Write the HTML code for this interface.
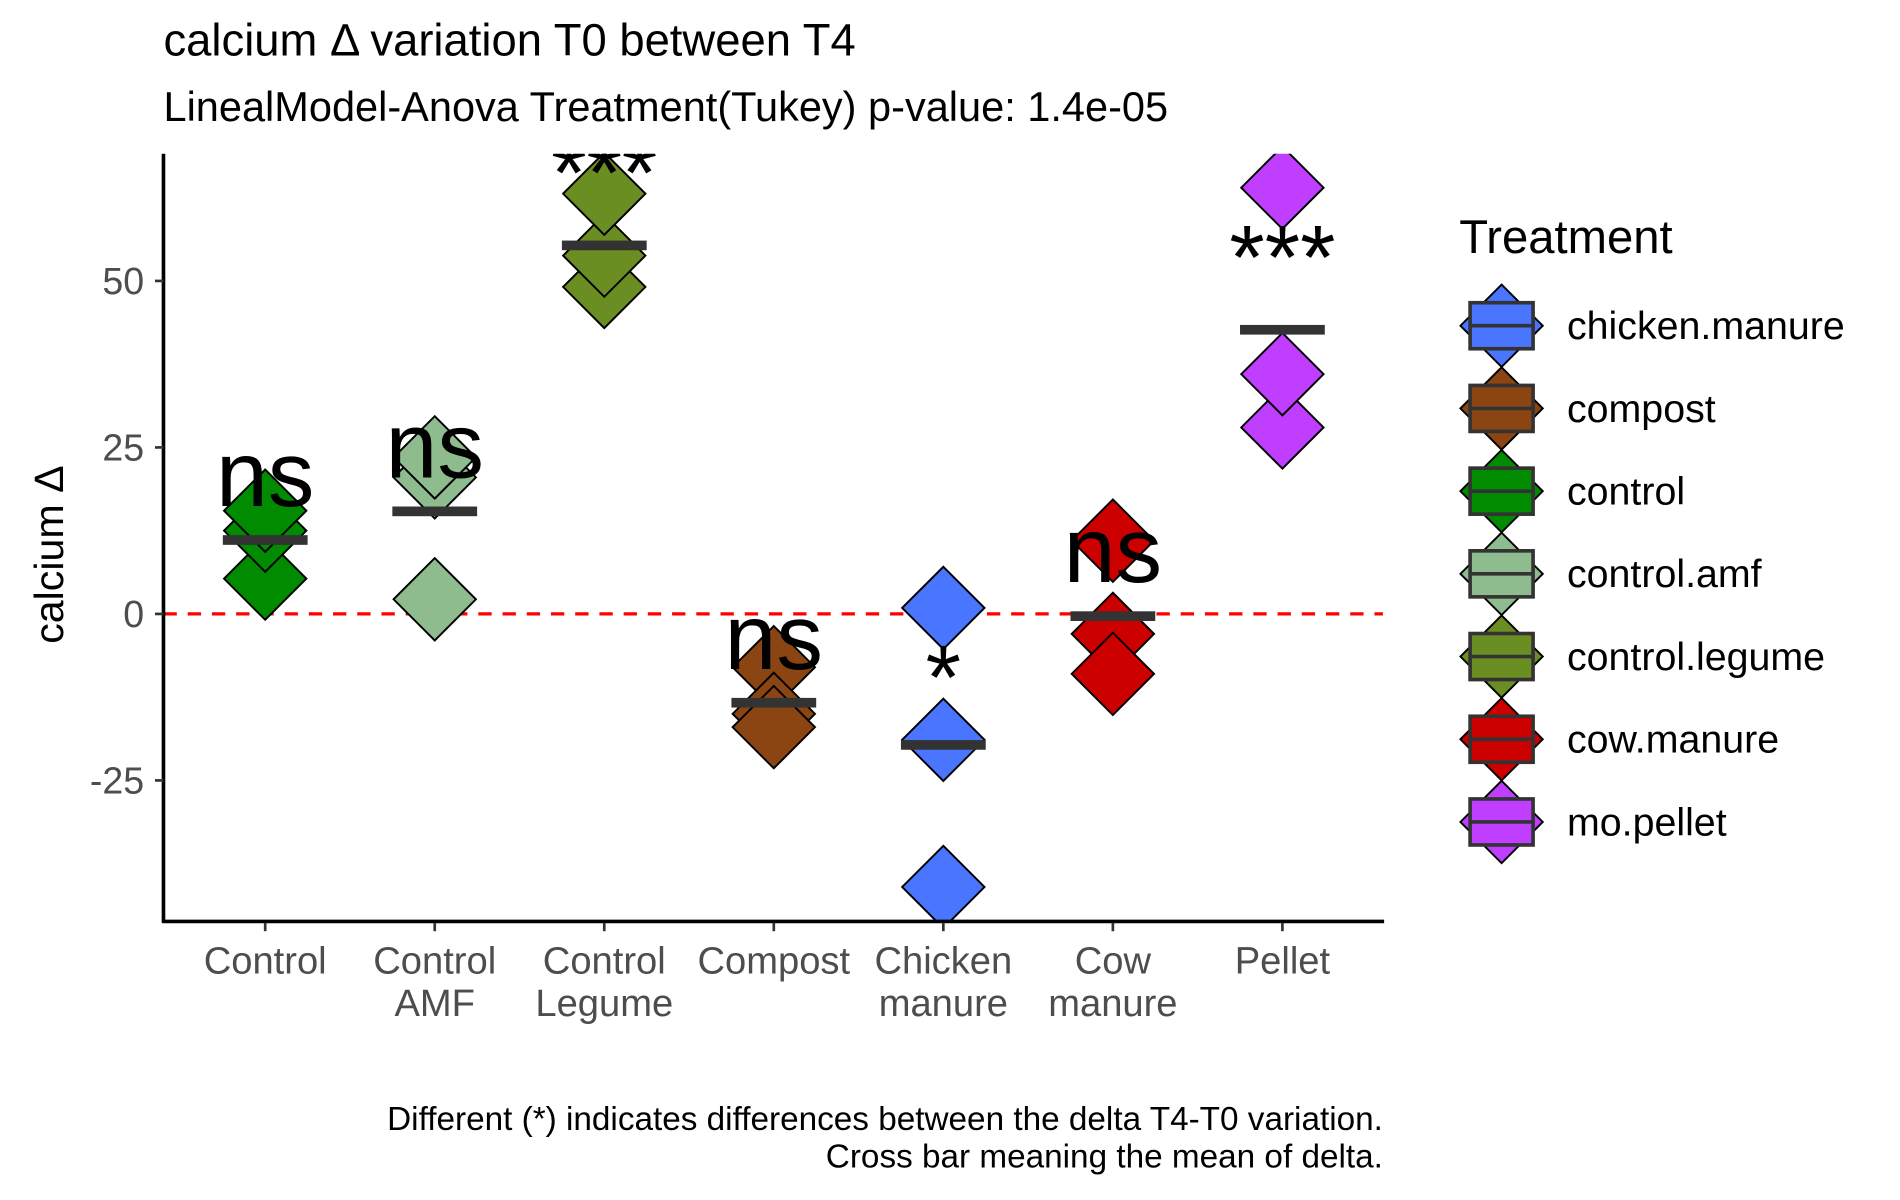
<!DOCTYPE html>
<html><head><meta charset="utf-8"><style>html,body{margin:0;padding:0;background:#fff}svg{display:block}</style></head>
<body>
<svg id="chart" width="1900" height="1200" viewBox="0 0 1569 991" preserveAspectRatio="none" xmlns="http://www.w3.org/2000/svg" font-family="Liberation Sans, Arial, sans-serif">
<rect width="1569" height="991" fill="#fff"/>
<text x="135" y="46" font-size="37.5">calcium Δ variation T0 between T4</text>
<text x="135" y="100" font-size="34.3">LinealModel-Anova Treatment(Tukey) p-value: 1.4e-05</text>
<text transform="translate(52,458) rotate(-90)" text-anchor="middle" font-size="34">calcium Δ</text>
<defs><clipPath id="pc"><rect x="135" y="127" width="1010" height="635"/></clipPath></defs>
<g id="plot" clip-path="url(#pc)"></g>
<g id="axes"></g>
<g id="legend"></g>
<text x="1142" y="933" text-anchor="end" font-size="27.5">Different (*) indicates differences between the delta T4-T0 variation.</text>
<text x="1142" y="964" text-anchor="end" font-size="27.5">Cross bar meaning the mean of delta.</text>
</svg>
<script>
const categories = [["Control"],["Control","AMF"],["Control","Legume"],["Compost"],["Chicken","manure"],["Cow","manure"],["Pellet"]];
const treatments = ["control","control.amf","control.legume","compost","chicken.manure","cow.manure","mo.pellet"];
const colors = ["#008B00","#8FBC8F","#6B8E23","#8B4513","#4A76FF","#CD0000","#BF3EFF"];
const valuesControl = [5.3, 12.5, 15.5];
const valuesAMF = [2.2, 20.5, 23.5];
const valuesLegume = [49.1, 53.8, 63.1];
const valuesCompost = [-8, -15, -17];
const valuesChicken = [0.9, -18.9, -41];
const valuesCow = [11, -3, -9];
const valuesPellet = [28, 36, 64];
const signif = ["ns","ns","***","ns","*","ns","***"];
const yTicks = [-25, 0, 25, 50];
const legendNames = ["chicken.manure","compost","control","control.amf","control.legume","cow.manure","mo.pellet"];
const legendColors = ["#4A76FF","#8B4513","#008B00","#8FBC8F","#6B8E23","#CD0000","#BF3EFF"];

const series = [valuesControl, valuesAMF, valuesLegume, valuesCompost, valuesChicken, valuesCow, valuesPellet];
const NS = "http://www.w3.org/2000/svg";
const yS = v => 507 - v * 5.5;
const xS = i => 219 + i * 140;
function mk(tag, attrs, parent){const e=document.createElementNS(NS,tag);for(const k in attrs)e.setAttribute(k,attrs[k]);parent.appendChild(e);return e;}
const plot=document.getElementById('plot'), axes=document.getElementById('axes'), legend=document.getElementById('legend');

const zl=mk('line',{x1:135,x2:1142,y1:yS(0),y2:yS(0),stroke:'#ff0000','stroke-width':2.7,'stroke-dasharray':'11 9'},plot);



series.forEach((vals,i)=>{
  const cx=xS(i); const h=34;
  vals.forEach((v,j)=>{
    const cy=yS(v);
    const d=mk('polygon',{points:`${cx},${cy-h} ${cx+h},${cy} ${cx},${cy+h} ${cx-h},${cy}`,fill:colors[i],stroke:'#000','stroke-width':1.6},plot);
    
    
  });
  const mean=vals.reduce((a,b)=>a+b,0)/vals.length;
  const b=mk('rect',{x:cx-35,y:yS(mean)-4,width:70,height:8,fill:'#333'},plot);
  
  
  let ly;
  if(signif[i]==='ns') ly=yS(mean)-28; else if(signif[i]==='*') ly=yS(mean)-30; else ly=yS(mean)-34;
  const t=mk('text',{x:cx,y:ly,'text-anchor':'middle','font-size':signif[i]==='ns'?77:75},plot);
  t.textContent=signif[i];
  
  
});

mk('line',{x1:135,x2:135,y1:127,y2:762,stroke:'#000','stroke-width':3},axes);
mk('line',{x1:134,x2:1143,y1:761,y2:761,stroke:'#000','stroke-width':3},axes);
yTicks.forEach(v=>{
  mk('line',{x1:128,x2:135,y1:yS(v),y2:yS(v),stroke:'#333','stroke-width':2.2},axes);
  const t=mk('text',{x:119,y:yS(v)+11,'text-anchor':'end','font-size':31,fill:'#4d4d4d'},axes);
  t.textContent=v;
  
  
});
categories.forEach((c,i)=>{
  mk('line',{x1:xS(i),x2:xS(i),y1:762,y2:769,stroke:'#333','stroke-width':2.2},axes);
  c.forEach((line,k)=>{
    const t=mk('text',{x:xS(i),y:804+k*35,'text-anchor':'middle','font-size':31.5,fill:'#4d4d4d'},axes);
    t.textContent=line;
    
    
  });
});

const lt=mk('text',{x:1205,y:209,'font-size':39},legend);
lt.textContent='Treatment';


legendNames.forEach((n,i)=>{
  const cy=269+i*68.3, cx=1240, h=34;
  const g=mk('g',{},legend);
  
  
  mk('polygon',{points:`${cx},${cy-h} ${cx+h},${cy} ${cx},${cy+h} ${cx-h},${cy}`,fill:legendColors[i],stroke:'#000','stroke-width':1.6},g);
  mk('rect',{x:cx-26,y:cy-19,width:52,height:38,fill:legendColors[i],stroke:'#333','stroke-width':3},g);
  mk('line',{x1:cx-26,x2:cx+26,y1:cy,y2:cy,stroke:'#333','stroke-width':3},g);
  const t=mk('text',{x:1294,y:cy+11,'font-size':32.5},g);
  t.textContent=n;
});
</script>
</body></html>
